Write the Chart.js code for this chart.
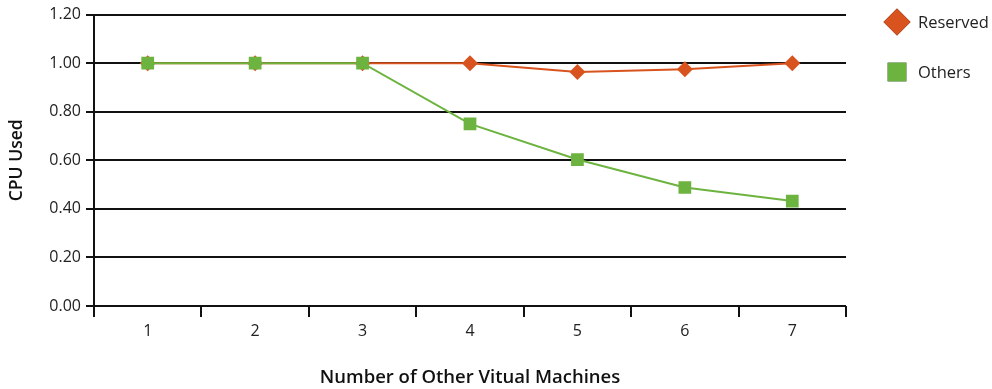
<!DOCTYPE html>
<html>
<head>
<meta charset="utf-8">
<script src="https://cdn.jsdelivr.net/npm/chart.js@4/dist/chart.umd.min.js"></script>
<style>
  html, body { margin: 0; padding: 0; background: #fff; }
  #wrap { width: 992px; height: 389px; position: relative; }
</style>
</head>
<body>
<div id="wrap"><canvas id="c" width="992" height="389"></canvas></div>
<script>
// Number of other virtual machines running alongside the reserved one
const categories = ['1', '2', '3', '4', '5', '6', '7'];
// Fraction of CPU used by each group
const reservedValues = [1.00, 1.00, 1.00, 1.00, 0.964, 0.975, 1.00];
const othersValues = [1.00, 1.00, 1.00, 0.75, 0.603, 0.488, 0.432];
const yTicks = [0, 0.2, 0.4, 0.6, 0.8, 1.0, 1.2];

const ORANGE = '#D9531E';
const GREEN = '#6DB33F';
const FONT = '"Open Sans", "DejaVu Sans", sans-serif';

// Legend drawn at the right of the plot, using each dataset's own marker style
const sideLegend = {
  id: 'sideLegend',
  afterDraw(chart) {
    const ctx = chart.ctx;
    const entries = [
      { ds: chart.data.datasets[0], y: 22, r: 13.5 },
      { ds: chart.data.datasets[1], y: 72, r: 13.2 }
    ];
    ctx.save();
    entries.forEach(e => {
      Chart.helpers.drawPoint(ctx, {
        pointStyle: e.ds.pointStyle,
        radius: e.r,
        rotation: 0,
        borderWidth: 0
      }, 897, e.y);
      ctx.fillStyle = e.ds.backgroundColor;
      ctx.fill();
      ctx.fillStyle = '#222';
      ctx.font = '16.5px ' + FONT;
      ctx.textBaseline = 'middle';
      ctx.textAlign = 'left';
      ctx.fillText(e.ds.label, 918, e.y + 1);
    });
    ctx.restore();
  }
};

new Chart(document.getElementById('c'), {
  type: 'line',
  data: {
    labels: categories,
    datasets: [
      {
        label: 'Reserved',
        data: reservedValues,
        borderColor: ORANGE,
        backgroundColor: ORANGE,
        borderWidth: 2,
        pointStyle: 'rectRot',
        pointRadius: 8,
        pointBorderWidth: 0,
        pointBackgroundColor: ORANGE,
        tension: 0,
        order: 1
      },
      {
        label: 'Others',
        data: othersValues,
        borderColor: GREEN,
        backgroundColor: GREEN,
        borderWidth: 2,
        pointStyle: 'rect',
        pointRadius: 9,
        pointBorderWidth: 0,
        pointBackgroundColor: GREEN,
        tension: 0,
        order: 0
      }
    ]
  },
  options: {
    responsive: false,
    animation: false,
    devicePixelRatio: 1,
    layout: { padding: { top: 14, right: 146, bottom: 0, left: 0 } },
    plugins: {
      legend: { display: false },
      tooltip: { enabled: false }
    },
    scales: {
      x: {
        type: 'category',
        offset: true,
        grid: {
          offset: true,
          drawOnChartArea: false,
          drawTicks: true,
          tickLength: 11,
          color: '#111',
          lineWidth: 2
        },
        border: { display: false },
        ticks: {
          color: '#222',
          font: { family: FONT, size: 16 },
          padding: 5,
          maxRotation: 0
        },
        title: {
          display: true,
          text: 'Number of Other Vitual Machines',
          color: '#111',
          font: { family: FONT, size: 18.5, weight: '600' },
          padding: { top: 0, bottom: 0 }
        },
        afterFit(scale) { scale.height = 83; }
      },
      y: {
        min: 0,
        max: 1.2,
        afterBuildTicks(scale) {
          scale.ticks = yTicks.map(v => ({ value: v }));
        },
        grid: {
          color: '#111',
          lineWidth: 2,
          tickLength: 8,
          drawTicks: true
        },
        border: { display: true, color: '#111', width: 2 },
        ticks: {
          color: '#222',
          font: { family: FONT, size: 16 },
          padding: 5,
          callback: v => Number(v).toFixed(2)
        },
        title: {
          display: true,
          text: 'CPU Used',
          color: '#111',
          font: { family: FONT, size: 17.5, weight: '600' },
          padding: { top: 7, bottom: 0 }
        },
        afterFit(scale) { scale.width = 94; }
      }
    }
  },
  plugins: [sideLegend]
});
</script>
</body>
</html>
